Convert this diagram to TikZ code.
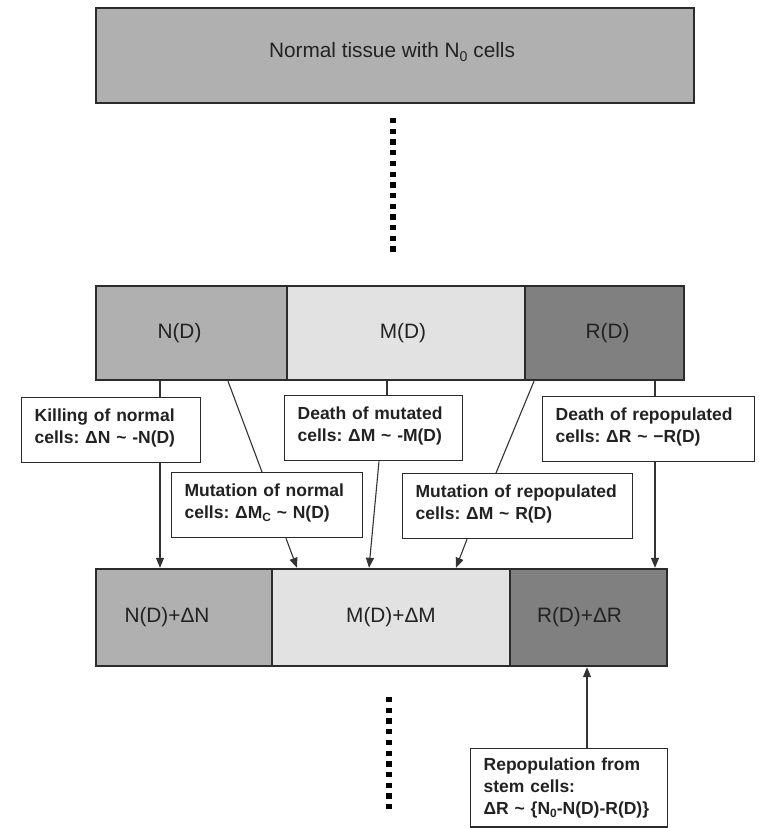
\documentclass[tikz,border=0pt]{standalone}
\usepackage{fontspec}
\setmainfont{Liberation Sans}
\usetikzlibrary{arrows.meta}
\frenchspacing
\definecolor{bordercol}{HTML}{2B2B2B}
\definecolor{linecol}{HTML}{333333}
\definecolor{txtcol}{HTML}{222222}
\definecolor{cgray}{HTML}{B0B0B0}
\definecolor{clight}{HTML}{E2E2E2}
\definecolor{cdark}{HTML}{808080}
\newcommand\lowsub[1]{\raisebox{-0.3ex}{\scalebox{0.68}{#1}}}
\tikzset{
  cellbox/.style={draw=bordercol, line width=2.4pt, inner sep=0pt, text=txtcol},
  textbox/.style={draw=bordercol, line width=1.3pt, fill=white, anchor=north west,
    align=left, inner xsep=13pt, inner ysep=0pt, text height=24pt, text depth=41pt,
    text=txtcol, font=\bfseries\frenchspacing\fontsize{17.5}{22}\selectfont},
  conn/.style={draw=linecol, line width=1.1pt},
  arr/.style={conn, -{Triangle[length=10pt,width=8pt]}},
  dotline/.style={draw=black, line width=5.5pt, dash pattern=on 5.3pt off 5.4pt},
  every label/.style={text=txtcol}
}
\begin{document}
\begin{tikzpicture}[x=1pt,y=-1pt,font=\fontsize{20.8}{24}\selectfont]
\useasboundingbox (0,0) rectangle (759,828);

% top box
\node[cellbox, fill=cgray, minimum width=598pt, minimum height=95pt] (top) at (395,55.5) {};
\node[text=txtcol] (toplbl) at (392,52) {Normal tissue with N\lowsub{0} cells};

% dotted separators
\draw[dotline] (393,118) -- (393,252);
\draw[dotline] (389,697) -- (389,810);

% middle row
\node[cellbox, fill=cgray, minimum width=191pt, minimum height=94pt,
  label={[xshift=-12pt]center:N(D)}] (ND) at (191.5,333) {};
\node[cellbox, fill=clight, minimum width=238pt, minimum height=94pt,
  label={[xshift=-3pt]center:M(D)}] (MD) at (406,333) {};
\node[cellbox, fill=cdark, minimum width=159pt, minimum height=94pt,
  label={[xshift=3pt]center:R(D)}] (RD) at (604.5,333) {};

% bottom row
\node[cellbox, fill=cgray, minimum width=176pt, minimum height=97pt,
  label={[xshift=-17pt]center:N(D)+ΔN}] (NB) at (184,617.5) {};
\node[cellbox, fill=clight, minimum width=238pt, minimum height=97pt,
  label={center:M(D)+ΔM}] (MB) at (391,617.5) {};
\node[cellbox, fill=cdark, minimum width=157pt, minimum height=97pt,
  label={[xshift=-9pt]center:R(D)+ΔR}] (RB) at (588.5,617.5) {};

% connectors (drawn before text boxes)
\draw[conn] (ND.south -| 160,0) -- (160,397) coordinate (k1);
\draw[conn] (ND.south -| 228,0) -- (262,472) coordinate (m1);
\draw[conn] (MD.south -| 387,0) -- (387,395) coordinate (d1);
\draw[conn] (RD.south -| 534,0) -- (496,473) coordinate (r1);
\draw[conn] (RD.south -| 655,0) -- (655,396) coordinate (e1);

% text boxes
\node[textbox, text width=153pt] (K) at (21,397)
  {Killing of normal\\cells: ΔN \textasciitilde{} -N(D)};
\node[textbox, text width=152pt] (DM) at (284,395)
  {Death of mutated\\cells: ΔM \textasciitilde{} -M(D)};
\node[textbox, text width=186pt] (DR) at (542,396)
  {Death of repopulated\\cells: ΔR \textasciitilde{} −R(D)};
\node[textbox, text width=165pt] (MN) at (171,472)
  {Mutation of normal\\cells: ΔM\lowsub{C} \textasciitilde{} N(D)};
\node[textbox, text width=204pt] (MR) at (402,473)
  {Mutation of repopulated\\cells: ΔM \textasciitilde{} R(D)};
\node[textbox, text width=171pt, text height=, text depth=, inner ysep=9pt] (RP) at (470,748)
  {Repopulation from\\stem cells:\\ΔR \textasciitilde{} \{N\lowsub{0}-N(D)-R(D)\}};

% arrows into bottom row
\draw[arr] (K.south -| 160,0) -- (NB.north -| 160,0);
\draw[arr] (MN.south -| 286,0) -- (MB.north -| 297,0);
\draw[arr] (DM.south -| 379,0) -- (MB.north -| 369,0);
\draw[arr] (MR.south -| 467,0) -- (MB.north -| 456,0);
\draw[arr] (DR.south -| 655,0) -- (RB.north -| 655,0);
\draw[arr] (RP.north -| 587,0) -- (RB.south -| 587,0);
\end{tikzpicture}
\end{document}
